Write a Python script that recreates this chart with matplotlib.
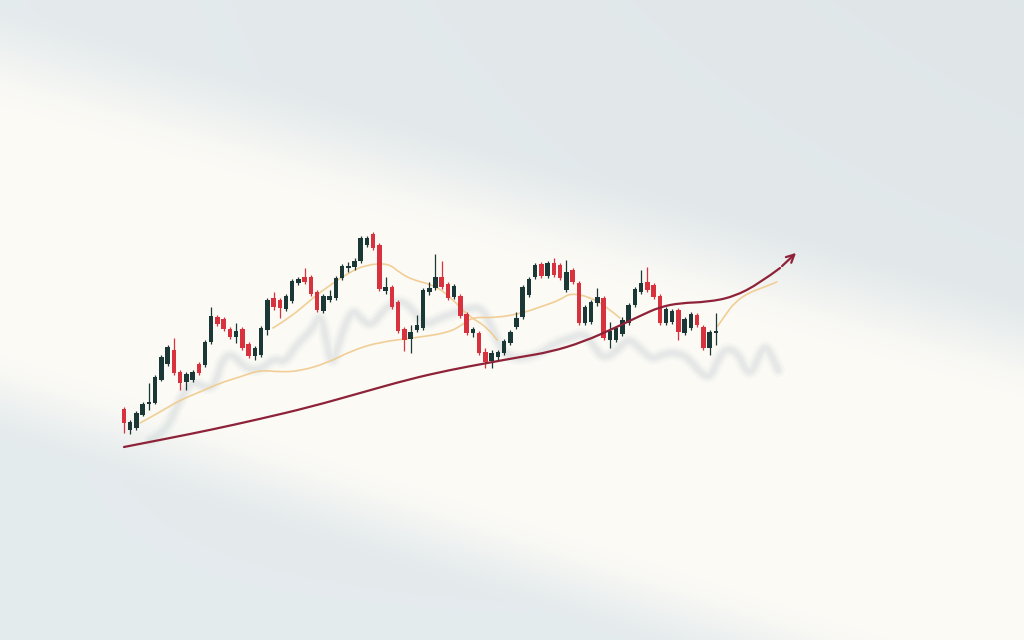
import numpy as np
import matplotlib
matplotlib.use("Agg")
import matplotlib.pyplot as plt
from matplotlib.path import Path
from matplotlib.patches import PathPatch

# candle prices (index = session)
opens = [231, 210, 212, 225, 236, 237, 260, 276, 290, 268, 258, 260, 276, 275, 298, 323, 321, 311, 303, 311,
         296, 284, 285, 310, 342, 340, 331, 339, 357, 363, 363, 348, 329, 340, 342, 362, 372, 373, 379, 395,
         406, 395, 349, 353, 338, 311, 301, 310, 312, 348, 352, 363, 356, 343, 344, 326, 307, 307, 288, 279,
         283, 287, 297, 313, 323, 345, 363, 376, 364, 377, 375, 350, 370, 357, 317, 318, 337, 342, 300, 300,
         306, 317, 335, 348, 358, 355, 344, 317, 318, 330, 307, 312, 325, 313, 292, 307]
highs = [233, 220, 229, 238, 257, 265, 285, 295, 302, 270, 268, 270, 278, 300, 333, 325, 323, 313, 317, 313,
         298, 294, 314, 342, 348, 342, 346, 361, 363, 372, 365, 350, 346, 350, 364, 376, 378, 382, 404, 404,
         408, 397, 363, 355, 340, 313, 315, 325, 352, 358, 386, 379, 358, 356, 346, 328, 313, 309, 292, 290,
         290, 301, 310, 328, 355, 363, 377, 378, 379, 382, 377, 380, 372, 359, 335, 340, 352, 344, 318, 314,
         323, 337, 353, 370, 373, 357, 346, 333, 331, 332, 323, 328, 327, 315, 310, 327]
lows = [207, 206, 210, 224, 230, 236, 259, 274, 265, 250, 250, 258, 265, 273, 296, 314, 309, 301, 297, 290,
        282, 280, 283, 305, 330, 322, 329, 337, 355, 356, 344, 328, 327, 338, 340, 360, 368, 370, 377, 393,
        390, 349, 346, 331, 307, 289, 287, 308, 310, 345, 350, 351, 340, 341, 322, 305, 303, 285, 272, 272,
        280, 285, 295, 311, 321, 343, 361, 362, 362, 363, 360, 348, 356, 315, 315, 316, 334, 300, 292, 298,
        304, 315, 333, 346, 348, 341, 315, 315, 316, 300, 305, 310, 313, 290, 285, 295]
closes = [217, 218, 227, 236, 238, 263, 283, 293, 267, 257, 266, 268, 267, 298, 324, 316, 311, 303, 309, 292,
          284, 292, 312, 340, 333, 332, 344, 359, 361, 358, 346, 330, 344, 344, 362, 374, 374, 379, 402, 402,
          392, 351, 353, 333, 309, 300, 308, 315, 350, 352, 363, 353, 342, 354, 324, 307, 311, 287, 278, 287,
          288, 299, 308, 322, 353, 361, 375, 364, 377, 365, 362, 368, 358, 317, 333, 338, 343, 302, 309, 312,
          320, 335, 351, 357, 350, 343, 317, 331, 329, 308, 321, 326, 315, 292, 308, 309]

# slow moving average
ma_slow_t = [2.6, 5.8, 9.0, 12.2, 15.4, 18.6, 21.8, 25.0, 28.3, 32.6, 36.8, 41.1, 46.4, 51.9, 54.3, 55.9,
             59.6, 64.0, 66.8, 70.0, 71.6, 74.8, 77.5, 79.6]
ma_slow = [217, 228, 240, 248, 257, 263, 270, 268, 269, 277, 290, 298, 302, 307, 315, 323,
           322, 327, 333, 340, 347, 343, 333, 322]
# fast moving average
ma_fast_t = [23.9, 26.6, 30.3, 33.1, 36.3, 38.8, 42.4, 44.3, 46.4, 49.1, 51.5, 53.6, 55.5, 58.3, 59.9]
ma_fast = [312, 322, 342, 355, 368, 375, 377, 367, 360, 356, 348, 335, 323, 313, 300]
# projected average
ma_proj_t = [95.3, 96.5, 98.1, 100.2, 102.4, 104.8]
ma_proj = [314, 325, 338, 347, 352, 358]

# trend line
trend_t = [0, 7.4, 13.8, 21.8, 29.9, 37.9, 45.9, 52.3, 58.3, 63.6, 68.4, 73.7, 79.1, 82.8, 86.0, 89.3,
           93.6, 97.8, 102.1, 105.3, 108.2]
trend = [193, 202, 210, 221, 233, 247, 261, 270, 277, 283, 288, 298, 313, 324, 333, 337,
         338, 343, 357, 372, 389]

# faint shadow line
ghost_t = [4.2, 6.6, 8.7, 10.9, 13.0, 14.6, 15.7, 17.3, 19.4, 21.8, 24.2, 25.8, 27.9, 30.2, 31.5, 32.4,
           33.4, 34.7, 36.6, 38.2, 39.8, 41.9, 44.3, 46.2, 48.3, 50.7, 53.1, 55.5, 57.5, 59.1, 60.4, 62.3,
           64.4, 66.8, 69.2, 71.6, 74.0, 75.6, 76.9, 78.8, 80.9, 82.8, 84.8, 86.8, 89.2, 90.9, 92.5, 94.1,
           95.3, 96.6, 98.6, 99.7, 100.8, 102.1, 103.0, 104.0, 105.0]
ghost = [208, 215, 245, 268, 260, 262, 288, 295, 280, 278, 290, 285, 305, 318, 335, 310,
         280, 310, 340, 328, 322, 340, 348, 340, 322, 330, 335, 340, 340, 320, 300, 290,
         290, 295, 305, 310, 315, 300, 290, 295, 310, 300, 288, 295, 295, 288, 275, 270,
         288, 300, 295, 278, 275, 295, 302, 292, 278]


def smooth_path(xs, ys):
    # quadratic curve through the midpoints, ends pinned to first/last point
    pts = list(zip(xs, ys))
    verts = [pts[0]]
    codes = [Path.MOVETO]
    for i in range(1, len(pts) - 1):
        mid = ((pts[i][0] + pts[i + 1][0]) / 2, (pts[i][1] + pts[i + 1][1]) / 2)
        if i == len(pts) - 2:
            mid = pts[-1]
        verts += [pts[i], mid]
        codes += [Path.CURVE3, Path.CURVE3]
    return Path(verts, codes)


W, H = 1024, 640
fig = plt.figure(figsize=(W / 100, H / 100), dpi=100)
ax = fig.add_axes([0, 0, 1, 1])
step = 6.23
x0 = -124 / step
ax.set_xlim(x0, x0 + W / step)
ax.set_ylim(0, H)
ax.axis("off")

# background with diagonal light band
X, Y = np.meshgrid(np.arange(W), np.arange(H))
def smooth(a, b, v):
    s = np.clip((v - a) / (b - a), 0, 1)
    return s * s * (3 - 2 * s)
du = Y - (40 + 0.285 * X)
dl = Y - (400 + 0.32 * X)
band = smooth(-40, 70, du) * (1 - smooth(-50, 40, dl))
gray = np.array([0.898, 0.922, 0.930]) - 0.02 * (X / W)[..., None] * (1 - Y / H)[..., None]
white = np.array([0.985, 0.981, 0.962])
bg = gray * (1 - band[..., None]) + white * band[..., None]
ax.imshow(bg, extent=[x0, x0 + W / step, 0, H], aspect="auto", zorder=0, origin="upper")

# shadow
ghost_low = [g - 8 for g in ghost]
for lw, a in [(10, 0.06), (6.5, 0.08), (3.5, 0.10)]:
    ax.add_patch(PathPatch(smooth_path(ghost_t, ghost_low), fill=False, edgecolor="#9fb4bd",
                           lw=lw, alpha=a, capstyle="round", joinstyle="round", zorder=1))

# moving averages
for t, v in [(ma_slow_t, ma_slow), (ma_fast_t, ma_fast), (ma_proj_t, ma_proj)]:
    ax.add_patch(PathPatch(smooth_path(t, v), fill=False, edgecolor="#f0ca8c", lw=1.2,
                           alpha=0.9, capstyle="round", zorder=2))

# candles
red = "#d8323f"
dark = "#1c3836"
idx = np.arange(len(opens))
o = np.array(opens)
c = np.array(closes)
cols = [red if cc < oo else dark for oo, cc in zip(o, c)]
ax.vlines(idx, lows, highs, colors=cols, lw=0.9, zorder=3)
bottoms = np.minimum(o, c)
heights = np.maximum(np.abs(c - o), 1.8)
ax.bar(idx, heights, bottom=bottoms, width=0.72, color=cols, zorder=4, linewidth=0)

# trend arrow
ax.add_patch(PathPatch(smooth_path(trend_t[:-1], trend[:-1]), fill=False, edgecolor="#8e2238",
                       lw=1.6, capstyle="round", zorder=5))
ax.annotate("", xy=(trend_t[-1], trend[-1]), xytext=(trend_t[-2], trend[-2]),
            arrowprops=dict(arrowstyle="->", color="#8e2238", lw=1.6, mutation_scale=14), zorder=5)

fig.savefig("out.png", dpi=100)
